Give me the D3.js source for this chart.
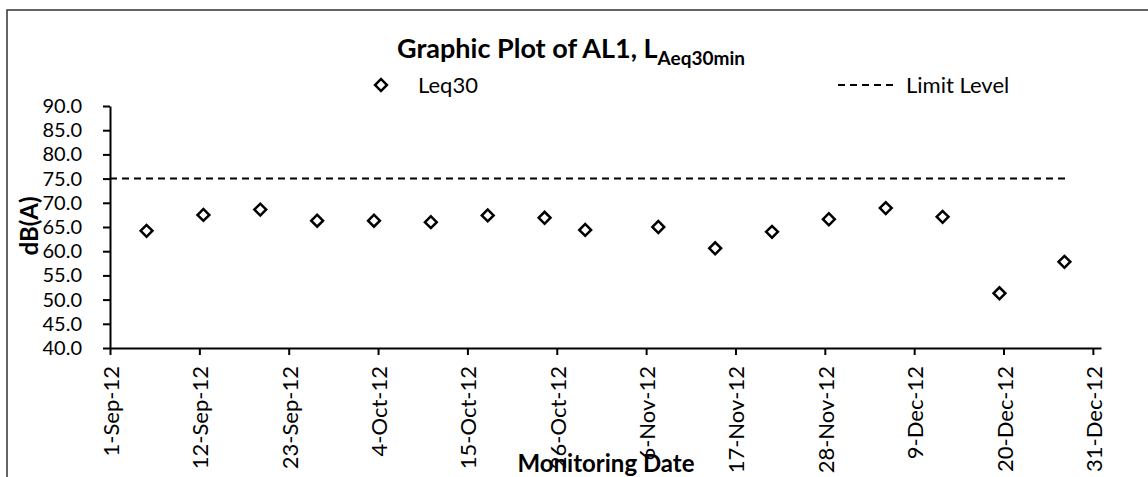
<!DOCTYPE html>
<head>
  <meta charset="utf-8" />
  <title>Graphic Plot of AL1</title>
  <script src="https://cdn.jsdelivr.net/npm/d3@7/dist/d3.min.js"></script>
  <style>
    body { margin: 0; background: #fff; }
    text { font-family: Lato, "Open Sans", sans-serif; fill: #000; }
  </style>
</head>
<body>
<script>
  // monitoring dates (weekly, readings at noon) and Leq30 values, dB(A)
  const dates = [
    "2012-09-05T12:00", "2012-09-12T12:00", "2012-09-19T12:00", "2012-09-26T12:00",
    "2012-10-03T12:00", "2012-10-10T12:00", "2012-10-17T12:00", "2012-10-24T12:00",
    "2012-10-29T12:00", "2012-11-07T12:00", "2012-11-14T12:00", "2012-11-21T12:00",
    "2012-11-28T12:00", "2012-12-05T12:00", "2012-12-12T12:00", "2012-12-19T12:00",
    "2012-12-27T12:00"
  ];
  const leq30 = [64.2, 67.5, 68.6, 66.3, 66.3, 66.0, 67.4, 66.9, 64.4,
                 65.0, 60.6, 64.0, 66.6, 68.9, 67.1, 51.3, 57.8];
  const limitDates = ["2012-09-01T00:00", "2012-12-27T18:00"];
  const limitLevel = [75, 75];
  const yTicks = [40, 45, 50, 55, 60, 65, 70, 75, 80, 85, 90];

  const W = 1148, H = 477;
  const parse = d3.timeParse("%Y-%m-%dT%H:%M");

  const x = d3.scaleTime()
    .domain([new Date(2012, 8, 1), new Date(2013, 0, 1)])
    .range([110, 1101]);
  const y = d3.scaleLinear().domain([40, 90]).range([348, 106]);

  const svg = d3.select("body").append("svg")
    .attr("width", W).attr("height", H);

  // chart border (runs off the right and bottom of the picture)
  svg.append("rect")
    .attr("x", 7).attr("y", 10)
    .attr("width", W + 20).attr("height", H + 20)
    .attr("fill", "none").attr("stroke", "#333").attr("stroke-width", 1.5);

  // y axis
  const yAxis = svg.append("g")
    .attr("transform", "translate(110,0)")
    .call(d3.axisLeft(y).tickValues(yTicks).tickFormat(d3.format(".1f"))
      .tickSizeInner(7).tickSizeOuter(0).tickPadding(21));
  yAxis.select(".domain").attr("stroke", "#000").attr("stroke-width", 2);
  yAxis.selectAll(".tick line").attr("stroke", "#000").attr("stroke-width", 2);
  yAxis.selectAll(".tick text")
    .style("font-family", "Lato, sans-serif").style("font-size", "20px")
    .attr("fill", "#000");

  // x axis, ticks every 11 days
  const xTicks = d3.timeDay.range(new Date(2012, 8, 1), new Date(2013, 0, 1))
    .filter((d, i) => i % 11 === 0);
  const xAxis = svg.append("g")
    .attr("transform", "translate(0,348)")
    .call(d3.axisBottom(x).tickValues(xTicks).tickFormat(d3.timeFormat("%-d-%b-%y"))
      .tickSizeInner(7).tickSizeOuter(0));
  xAxis.select(".domain").attr("stroke", "#000").attr("stroke-width", 2);
  xAxis.selectAll(".tick line").attr("stroke", "#000").attr("stroke-width", 2);
  xAxis.selectAll(".tick text")
    .style("font-family", "Lato, sans-serif").style("font-size", "22px")
    .attr("fill", "#000")
    .attr("text-anchor", "end")
    .attr("dy", null)
    .attr("dominant-baseline", "central")
    .attr("transform", "translate(0,18) rotate(-90)")
    .attr("x", 0).attr("y", 0);

  // limit level
  const line = d3.line().x((d, i) => x(parse(limitDates[i]))).y(d => y(d));
  svg.append("path")
    .attr("d", line(limitLevel))
    .attr("fill", "none").attr("stroke", "#000")
    .attr("stroke-width", 2).attr("stroke-dasharray", "7,5");

  // Leq30 markers
  const diamond = d3.symbol().type(d3.symbolSquare).size(70);
  svg.append("g").selectAll("path")
    .data(leq30)
    .join("path")
    .attr("d", diamond)
    .attr("transform", (d, i) => `translate(${x(parse(dates[i]))},${y(d)}) rotate(45)`)
    .attr("fill", "#fff").attr("stroke", "#000").attr("stroke-width", 2.5);

  // title
  const title = svg.append("text")
    .attr("x", 397).attr("y", 58)
    .style("font-size", "27px").style("font-weight", "bold");
  title.append("tspan").text("Graphic Plot of AL1, L");
  title.append("tspan").attr("dy", 7).style("font-size", "19px").text("Aeq30min");

  // legend
  svg.append("path")
    .attr("d", diamond)
    .attr("transform", "translate(381,85) rotate(45)")
    .attr("fill", "#fff").attr("stroke", "#000").attr("stroke-width", 2.5);
  svg.append("text").attr("x", 418).attr("y", 93)
    .style("font-size", "22px").text("Leq30");
  svg.append("line")
    .attr("x1", 838).attr("x2", 896).attr("y1", 85).attr("y2", 85)
    .attr("stroke", "#000").attr("stroke-width", 2).attr("stroke-dasharray", "7,5");
  svg.append("text").attr("x", 906).attr("y", 93)
    .style("font-size", "22px").text("Limit Level");

  // axis titles
  svg.append("text")
    .attr("transform", "translate(38,226) rotate(-90)")
    .attr("text-anchor", "middle")
    .style("font-size", "24px").style("font-weight", "bold")
    .text("dB(A)");
  svg.append("text")
    .attr("x", 606).attr("y", 472)
    .attr("text-anchor", "middle")
    .style("font-size", "24px").style("font-weight", "bold")
    .text("Monitoring Date");
</script>
</body>
